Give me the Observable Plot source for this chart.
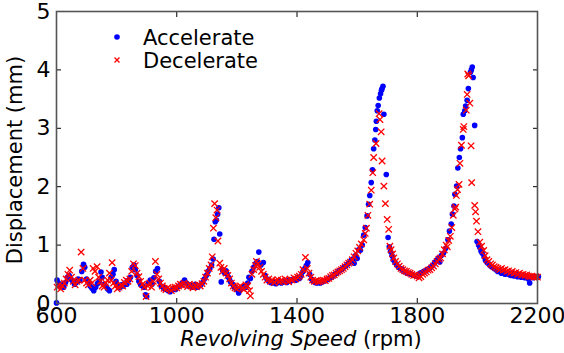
<!DOCTYPE html>
<html>
<head>
<meta charset="utf-8">
<script src="https://cdn.jsdelivr.net/npm/d3@7"></script>
<script src="https://cdn.jsdelivr.net/npm/@observablehq/plot@0.6"></script>
<style>
  html, body { margin: 0; padding: 0; background: #fff; }
  #chart { width: 564px; height: 353px; }
</style>
</head>
<body>
<div id="chart"></div>
<script>
const xTicks = [600, 1000, 1400, 1800, 2200];
const yTicks = [0, 1, 2, 3, 4, 5];
const seriesNames = ["Accelerate", "Decelerate"];
const xTitle = "Revolving Speed";
const xUnit = "(rpm)";
const yTitle = "Displacement (mm)";

const accelRpm = [600,602,606,612,618,624,630,636,642,648,654,660,666,672,678,684,690,694,700,706,712,718,724,730,736,742,748,752,758,764,770,776,782,788,792,798,804,810,816,822,828,834,840,846,852,858,862,868,874,880,886,892,896,900,906,912,918,924,930,936,942,948,954,960,966,972,978,984,990,996,1002,1008,1014,1020,1026,1032,1038,1044,1050,1056,1062,1068,1074,1080,1086,1092,1098,1104,1110,1116,1121,1124,1128,1132,1136,1140,1143,1148,1152,1156,1160,1164,1168,1172,1176,1180,1186,1192,1198,1204,1206,1212,1218,1224,1230,1236,1240,1245,1250,1256,1262,1268,1273,1280,1288,1294,1300,1306,1312,1318,1324,1330,1336,1342,1348,1354,1360,1366,1372,1378,1384,1390,1396,1402,1408,1414,1420,1426,1431,1436,1442,1448,1454,1460,1466,1472,1478,1484,1490,1496,1502,1508,1514,1520,1526,1532,1538,1544,1550,1556,1562,1568,1574,1580,1586,1590,1595,1600,1605,1611,1617,1622,1627,1633,1638,1642,1647,1651,1655,1659,1662,1664,1667,1670,1674,1678,1681,1683,1686,1689,1697,1703,1707,1711,1716,1720,1726,1732,1738,1744,1750,1756,1762,1768,1774,1780,1786,1792,1798,1804,1810,1816,1822,1828,1834,1840,1846,1852,1858,1864,1870,1875,1880,1887,1894,1902,1907,1913,1917,1922,1925,1931,1935,1940,1944,1950,1953,1958,1961,1966,1970,1977,1980,1983,1986,1991,1999,2004,2008,2012,2016,2022,2027,2032,2038,2044,2050,2056,2062,2068,2074,2080,2086,2092,2098,2104,2110,2116,2122,2128,2134,2140,2146,2152,2158,2164,2170,2174,2180,2186,2192,2198,2203];
const accelDisp = [0.01,0.40,0.35,0.30,0.33,0.28,0.36,0.45,0.48,0.42,0.38,0.33,0.36,0.42,0.40,0.55,0.67,0.62,0.42,0.36,0.30,0.26,0.22,0.28,0.34,0.38,0.54,0.45,0.33,0.30,0.25,0.22,0.45,0.50,0.58,0.38,0.30,0.27,0.32,0.30,0.35,0.33,0.40,0.45,0.62,0.66,0.58,0.48,0.38,0.32,0.30,0.28,0.15,0.12,0.35,0.40,0.33,0.44,0.55,0.60,0.38,0.30,0.28,0.25,0.24,0.22,0.20,0.23,0.25,0.24,0.28,0.30,0.32,0.36,0.40,0.35,0.30,0.32,0.28,0.30,0.33,0.28,0.30,0.32,0.36,0.42,0.48,0.55,0.60,0.66,0.76,1.10,1.40,1.43,1.53,1.64,1.19,0.37,0.58,0.55,0.52,0.56,0.50,0.45,0.40,0.36,0.33,0.28,0.25,0.22,0.18,0.24,0.27,0.30,0.28,0.35,0.45,0.43,0.55,0.62,0.68,0.72,0.88,0.66,0.70,0.48,0.42,0.38,0.36,0.35,0.37,0.34,0.36,0.38,0.35,0.37,0.38,0.36,0.40,0.38,0.41,0.42,0.40,0.44,0.43,0.48,0.55,0.60,0.65,0.70,0.50,0.42,0.38,0.36,0.35,0.36,0.35,0.37,0.38,0.40,0.41,0.44,0.45,0.47,0.50,0.52,0.55,0.57,0.59,0.62,0.64,0.67,0.70,0.74,0.76,0.69,0.82,0.77,0.92,0.91,1.00,1.17,1.30,1.50,1.70,1.85,2.07,2.29,2.65,2.80,2.98,3.12,3.30,3.39,3.52,3.59,3.65,3.68,3.72,3.24,2.21,1.13,0.97,0.89,0.82,0.75,0.70,0.66,0.62,0.60,0.58,0.55,0.54,0.52,0.51,0.50,0.49,0.48,0.47,0.50,0.52,0.53,0.55,0.56,0.58,0.60,0.63,0.66,0.70,0.74,0.78,0.71,0.82,0.86,0.94,1.09,1.24,1.36,1.53,1.67,1.87,2.01,2.32,2.50,2.65,2.84,3.24,3.30,3.38,3.48,3.68,3.96,4.00,4.05,3.87,3.05,1.06,1.00,0.96,0.90,0.86,0.80,0.74,0.70,0.68,0.64,0.62,0.60,0.58,0.55,0.56,0.52,0.54,0.50,0.52,0.50,0.48,0.52,0.47,0.50,0.46,0.48,0.45,0.47,0.44,0.46,0.42,0.35,0.45,0.44,0.46,0.45,0.46];

const decelRpm = [602,608,614,620,626,632,638,644,650,656,662,668,674,682,688,694,700,706,712,718,722,728,735,740,746,752,758,764,770,776,782,785,790,796,802,808,814,820,826,832,838,844,850,856,862,868,874,880,886,892,898,904,910,916,922,929,934,940,946,952,958,964,970,976,982,988,994,1000,1006,1012,1018,1024,1030,1036,1042,1048,1054,1060,1066,1072,1078,1084,1090,1096,1102,1108,1114,1118,1122,1126,1130,1134,1137,1143,1147,1152,1158,1164,1170,1176,1182,1188,1194,1200,1206,1212,1218,1224,1230,1236,1242,1245,1250,1256,1262,1265,1270,1276,1282,1288,1294,1300,1306,1312,1318,1324,1330,1336,1342,1348,1354,1360,1366,1372,1378,1384,1390,1396,1402,1408,1414,1420,1428,1434,1440,1446,1452,1458,1464,1470,1476,1482,1488,1494,1500,1506,1512,1518,1524,1530,1536,1542,1548,1554,1560,1566,1572,1578,1584,1590,1596,1602,1608,1614,1622,1627,1631,1636,1642,1647,1652,1655,1663,1673,1676,1680,1683,1689,1694,1700,1705,1709,1713,1718,1722,1728,1734,1740,1746,1752,1758,1764,1770,1776,1782,1788,1794,1800,1806,1812,1818,1824,1830,1836,1842,1848,1854,1860,1866,1872,1878,1884,1890,1896,1900,1905,1910,1915,1920,1925,1928,1930,1934,1939,1942,1947,1953,1955,1963,1966,1968,1971,1975,1979,1981,1991,1994,1997,2002,2008,2014,2021,2026,2032,2038,2044,2050,2056,2062,2068,2074,2080,2086,2092,2098,2104,2110,2116,2122,2128,2134,2140,2146,2152,2158,2164,2170,2176,2182,2188,2194,2200];
const decelDisp = [0.28,0.32,0.25,0.30,0.35,0.42,0.50,0.57,0.45,0.38,0.32,0.38,0.40,0.88,0.60,0.40,0.35,0.32,0.40,0.35,0.60,0.55,0.63,0.45,0.38,0.30,0.28,0.35,0.40,0.52,0.40,0.70,0.35,0.30,0.25,0.28,0.32,0.30,0.36,0.40,0.38,0.42,0.55,0.68,0.65,0.52,0.46,0.38,0.33,0.28,0.12,0.30,0.35,0.28,0.38,0.72,0.50,0.42,0.35,0.30,0.26,0.24,0.27,0.25,0.22,0.26,0.28,0.27,0.30,0.33,0.32,0.35,0.32,0.29,0.33,0.30,0.27,0.31,0.29,0.32,0.30,0.34,0.38,0.45,0.52,0.60,0.66,0.80,1.29,1.71,1.47,1.60,1.07,0.69,0.62,0.55,0.60,0.52,0.48,0.42,0.35,0.30,0.27,0.25,0.28,0.30,0.26,0.24,0.32,0.30,0.22,0.13,0.50,0.58,0.65,0.72,0.68,0.62,0.55,0.50,0.45,0.40,0.42,0.38,0.40,0.36,0.39,0.41,0.37,0.40,0.38,0.42,0.39,0.37,0.41,0.40,0.44,0.42,0.45,0.47,0.50,0.58,0.79,0.60,0.52,0.45,0.40,0.38,0.39,0.37,0.38,0.39,0.40,0.39,0.42,0.43,0.46,0.48,0.49,0.52,0.54,0.56,0.58,0.60,0.63,0.66,0.69,0.71,0.75,0.80,0.86,0.90,0.96,1.02,1.09,1.20,1.29,1.51,1.70,1.94,2.24,2.50,2.74,3.25,3.15,2.94,2.44,2.01,1.71,1.44,1.27,0.98,0.92,0.85,0.78,0.72,0.68,0.64,0.60,0.58,0.56,0.55,0.53,0.52,0.50,0.48,0.49,0.47,0.44,0.46,0.50,0.52,0.54,0.57,0.58,0.61,0.64,0.68,0.72,0.76,0.78,0.85,0.92,1.00,0.97,1.08,1.15,1.30,1.51,1.62,1.65,1.85,1.95,2.04,2.40,2.71,2.98,3.03,3.31,3.58,3.93,3.90,3.43,2.70,2.07,1.68,1.57,1.41,1.23,1.05,0.98,0.91,0.82,0.75,0.72,0.68,0.66,0.63,0.62,0.60,0.58,0.60,0.57,0.58,0.55,0.56,0.53,0.55,0.52,0.53,0.50,0.52,0.49,0.50,0.48,0.49,0.47,0.46,0.47,0.45,0.46,0.45];

const accel = accelRpm.map((r, i) => ({rpm: r, disp: accelDisp[i]}));
const decel = decelRpm.map((r, i) => ({rpm: r, disp: decelDisp[i]}));

const font = "'DejaVu Sans', Verdana, sans-serif";
const axisColor = "#555";
const plain = d => String(d);

const svg = Plot.plot({
  width: 564,
  height: 353,
  marginLeft: 56,
  marginRight: 27,
  marginTop: 11,
  marginBottom: 50,
  style: {fontFamily: font, fontSize: "22px", background: "#fff", color: "#000", overflow: "visible"},
  x: {domain: [600, 2200]},
  y: {domain: [0, 5]},
  marks: [
    Plot.dot(accel, {x: "rpm", y: "disp", r: 2.8, fill: "#0000ff", stroke: "none"}),
    Plot.dot(decel, {x: "rpm", y: "disp", symbol: "times", r: 3.0, stroke: "#ff0000", strokeWidth: 1.3}),
    Plot.axisX(xTicks, {anchor: "bottom", tickSize: 0, tickPadding: 4, fontSize: 22, label: null, tickFormat: plain}),
    Plot.axisX(xTicks, {anchor: "bottom", tickSize: -5, tickFormat: () => "", label: null, stroke: "#000"}),
    Plot.axisX(xTicks, {anchor: "top", tickSize: -5, tickFormat: () => "", label: null, stroke: "#000"}),
    Plot.axisY(yTicks, {anchor: "left", tickSize: 0, tickPadding: 6, fontSize: 22, label: null, tickFormat: plain}),
    Plot.axisY(yTicks, {anchor: "left", tickSize: -5, tickFormat: () => "", label: null, stroke: "#000"}),
    Plot.axisY(yTicks, {anchor: "right", tickSize: -5, tickFormat: () => "", label: null, stroke: "#000"}),
    Plot.frame({stroke: axisColor, strokeWidth: 1.6})
  ]
});

const s = d3.select(svg);
// Y title
s.append("text")
  .attr("transform", "translate(22,160) rotate(-90)")
  .attr("text-anchor", "middle")
  .attr("font-family", font)
  .attr("font-size", 21)
  .attr("fill", "#000")
  .text(yTitle);
// X title
const xt = s.append("text")
  .attr("x", 301)
  .attr("y", 346)
  .attr("text-anchor", "middle")
  .attr("font-family", font)
  .attr("font-size", 21)
  .attr("fill", "#000");
xt.append("tspan").attr("font-style", "italic").text(xTitle + " ");
xt.append("tspan").text(xUnit);

// Legend
const lg = s.append("g").attr("font-family", font).attr("font-size", 21).attr("text-anchor", "start");
lg.append("circle").attr("cx", 117).attr("cy", 37).attr("r", 2.8).attr("fill", "#0000ff");
lg.append("path").attr("d", "M114.5,57.5L119.5,62.5M114.5,62.5L119.5,57.5").attr("stroke", "#ff0000").attr("stroke-width", 1.3);
lg.append("text").attr("x", 143).attr("y", 37).attr("dy", "0.36em").attr("fill", "#000").text(seriesNames[0]);
lg.append("text").attr("x", 143).attr("y", 60).attr("dy", "0.36em").attr("fill", "#000").text(seriesNames[1]);

document.getElementById("chart").appendChild(svg);
</script>
</body>
</html>
